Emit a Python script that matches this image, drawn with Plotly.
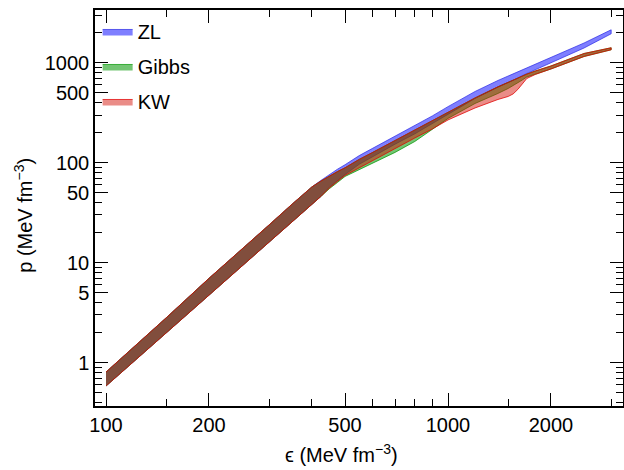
import plotly.graph_objects as go

# energy density grid (MeV fm^-3)
eps = [100, 120, 150, 200, 250, 300, 350, 400, 425, 450, 475, 500, 550, 600, 700, 800, 900,
       1000, 1200, 1400, 1500, 1550, 1600, 1650, 1700, 1800, 2000, 2500, 3000]

# pressure bands (MeV fm^-3), upper and lower edge for each model
zl_hi = [0.805, 1.41, 2.81, 6.97, 13.6, 23.9, 38.5, 57.3, 66.5, 76.4, 86.1, 95.5, 117.8, 138.5,
         184, 233.6, 294, 364, 516.4, 665.3, 738, 777, 818.5, 857, 897.5, 977, 1143, 1578, 2138]
zl_lo = [0.583, 1.01, 1.97, 4.70, 9.18, 15.9, 25.3, 38.3, 46, 57, 66, 76.4, 96.5, 115.4,
         153.3, 194.7, 245, 303.5, 440, 570, 634, 667, 700, 745, 785.2, 857, 1007, 1406, 1950]

gibbs_hi = [0.805, 1.41, 2.81, 6.97, 13.6, 23.9, 38.5, 57.3, 65.5, 73.5, 81.5, 89, 108, 126,
            167, 213, 266, 325, 445, 575, 640, 673, 705, 730, 770, 827.9, 928.9, 1239, 1413]
gibbs_lo = [0.583, 1.01, 1.97, 4.70, 9.18, 15.9, 25.3, 38.3, 46, 55, 63.5, 72.9, 85.7, 98.4,
            126.8, 163.3, 215.3, 277.3, 391.7, 493.3, 553.4, 589.6, 628.1, 673, 721.1, 772.7,
            867, 1156, 1349]

kw_hi = [0.805, 1.41, 2.81, 6.97, 13.6, 23.9, 38.5, 57.3, 65.5, 73.5, 81.5, 89, 108, 126,
         167, 213, 266, 325, 445, 575, 640, 673, 705, 730, 770, 827.9, 928.9, 1239, 1413]
kw_lo = [0.583, 1.01, 1.97, 4.70, 9.18, 15.9, 25.3, 38.3, 46, 56, 65, 74.6, 89.7, 104.2,
         139, 177, 217.8, 267.9, 353.2, 429.5, 460.3, 487.5, 540.8, 606.7, 696.6, 763.8,
         867, 1156, 1349]

x_major = [100, 200, 500, 1000, 2000]
x_minor = [150, 300, 400, 600, 700, 800, 900, 1500, 3000]
y_major = [1, 5, 10, 50, 100, 500, 1000]
y_minor = [0.4, 0.5, 0.6, 0.7, 0.8, 0.9, 2, 3, 4, 6, 7, 8, 9, 20, 30, 40, 60, 70, 80, 90,
           200, 300, 400, 600, 700, 800, 900, 2000, 3000]

bands = [
    ("ZL", zl_hi, zl_lo, "rgba(0,0,255,0.5)", "rgba(40,40,230,0.7)"),
    ("Gibbs", gibbs_hi, gibbs_lo, "rgba(0,150,0,0.55)", "rgba(0,150,0,0.7)"),
    ("KW", kw_hi, kw_lo, "rgba(210,10,0,0.47)", "rgba(225,0,0,0.75)"),
]

fig = go.Figure()
for name, hi, lo, fc, lc in bands:
    fig.add_trace(go.Scatter(
        x=eps + eps[::-1], y=hi + lo[::-1],
        fill="toself", fillcolor=fc, mode="lines",
        line=dict(color=lc, width=1),
        name=name, legendgroup=name,
    ))

axis_common = dict(
    type="log", showgrid=False, zeroline=False, automargin=False,
    showline=True, linecolor="black", linewidth=1.5, mirror="ticks",
    ticks="inside", ticklen=13, tickwidth=1.2, tickcolor="black",
    tickmode="array",
    tickfont=dict(family="Liberation Sans, Arial, sans-serif", size=20, color="black"),
)

fig.update_xaxes(**axis_common, range=[1.9678, 3.5117],
                 tickvals=x_major, ticktext=[str(v) for v in x_major],
                 minor=dict(tickmode="array", tickvals=x_minor, ticks="inside",
                            ticklen=7, tickwidth=1.2, tickcolor="black", showgrid=False))
fig.update_yaxes(**axis_common, range=[-0.434, 3.528],
                 tickvals=y_major, ticktext=[str(v) for v in y_major],
                 minor=dict(tickmode="array", tickvals=y_minor, ticks="inside",
                            ticklen=7, tickwidth=1.2, tickcolor="black", showgrid=False))

title_font = dict(family="Liberation Sans, Arial, sans-serif", size=20, color="black")
fig.add_annotation(text="ϵ (MeV fm<sup>−3</sup>)", xref="paper", yref="paper",
                   x=0.466, y=-0.119, xanchor="center", yanchor="middle",
                   showarrow=False, font=title_font)
fig.add_annotation(text="p (MeV fm<sup>−3</sup>)", xref="paper", yref="paper",
                   x=-0.137, y=0.482, xanchor="center", yanchor="middle",
                   textangle=-90, showarrow=False, font=title_font)

fig.update_layout(
    width=624, height=470,
    margin=dict(l=95, r=1, t=10, b=64, autoexpand=False),
    paper_bgcolor="white", plot_bgcolor="white",
    showlegend=True,
    legend=dict(x=0.005, y=0.995, xanchor="left", yanchor="top",
                bgcolor="rgba(0,0,0,0)", tracegroupgap=6,
                font=dict(family="Liberation Sans, Arial, sans-serif", size=20, color="black")),
)

# page body has a default 8px margin that pushes the figure off the window
fig.write_html("out.html", config={"displayModeBar": False},
               post_script="document.body.style.margin='0px';")
